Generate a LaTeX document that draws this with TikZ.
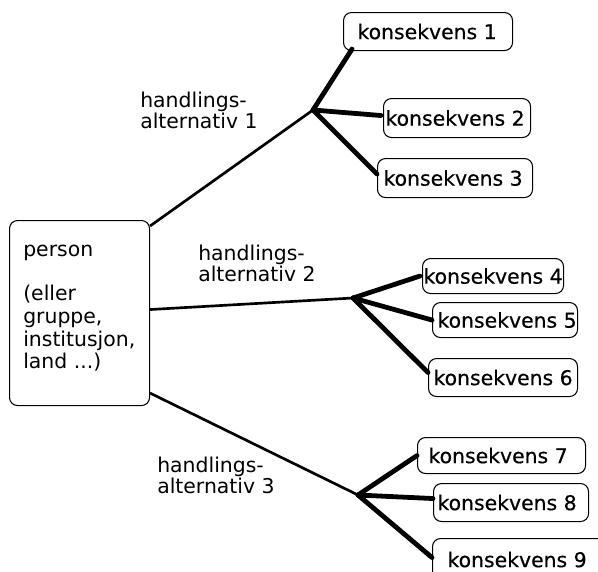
\documentclass[tikz,border=0pt]{standalone}
\usepackage{fontspec}
\setmainfont{DejaVu Sans}
\newfontfamily\kfont{DejaVu Sans}[FakeBold=0.5]
\usetikzlibrary{calc}
\newcommand{\kb}[3]{\makebox[#2\dimexpr0.75pt\relax][l]{\hspace*{#1\dimexpr0.75pt\relax}#3}}
\begin{document}
\begin{tikzpicture}[x=0.75pt,y=-0.75pt,
  box/.style={draw,rounded corners=6pt,line width=0.8pt,anchor=north west,inner sep=0pt},
  kbox/.style={box,font=\kfont\fontsize{15.3}{18}\selectfont},
  lab/.style={anchor=west,inner sep=0pt,align=left,font=\fontsize{15.3}{15.8}\selectfont},
  main/.style={line width=2pt},
  branch/.style={line width=3.6pt,line cap=round}]
\useasboundingbox (0,0) rectangle (598,571);
\clip (0,0) rectangle (598,571);
% person
\node[box,minimum width=140*0.75pt,minimum height=185*0.75pt] (person) at (9,220) {};
\node[anchor=north west,inner sep=0pt,align=left,font=\fontsize{15.3}{17}\selectfont] (ptext) at (23,245)
  {person\\[16pt](eller\\gruppe,\\institusjon,\\land ...)};
% consequence boxes
\node[kbox,minimum height=38*0.75pt] (k1) at (343,12) {\kb{14}{169}{konsekvens 1}};
\node[kbox,minimum height=39*0.75pt] (k2) at (383,98) {\kb{2}{147}{konsekvens 2}};
\node[kbox,minimum height=39*0.75pt] (k3) at (377,158) {\kb{6}{155}{konsekvens 3}};
\node[kbox,minimum height=35*0.75pt] (k4) at (422,258) {\kb{1}{141}{konsekvens 4}};
\node[kbox,minimum height=35*0.75pt] (k5) at (432,302) {\kb{5}{145}{konsekvens 5}};
\node[kbox,minimum height=38*0.75pt] (k6) at (428,358) {\kb{5}{149}{konsekvens 6}};
\node[kbox,minimum height=36*0.75pt] (k7) at (417,437) {\kb{11}{168}{konsekvens 7}};
\node[kbox,minimum height=38*0.75pt] (k8) at (433,483) {\kb{4}{155}{konsekvens 8}};
\node[kbox,minimum height=42*0.75pt] (k9) at (432,538) {\kb{15}{180}{konsekvens 9}};
% labels
\node[lab] (l1) at (140,110) {handlings-\\alternativ 1};
\node[lab] (l2) at (198,263) {handlings-\\alternativ 2};
\node[lab] (l3) at (157,475) {handlings-\\alternativ 3};
% branch points
\coordinate (b1) at (313,110);
\coordinate (b2) at (353,298);
\coordinate (b3) at (358,495);
% main lines
\draw[main] ($(person.north east)+(0,6)$) -- (b1);
\draw[main] ($(person.east)+(0,-3.5)$) -- (b2);
\draw[main] ($(person.south east)+(0,-13)$) -- (b3);
% branches
\draw[branch] (b1) -- ($(k1.south west)+(9,-2)$);
\draw[branch] (b1) -- ($(k2.west)+(-2,-2.5)$);
\draw[branch] (b1) -- ($(k3.west)+(0,-4)$);
\draw[branch] (b2) -- ($(k4.west)+(-2,0)$);
\draw[branch] (b2) -- (k5.west);
\draw[branch] (b2) -- ($(k6.west)+(0,-5)$);
\draw[branch] (b3) -- (k7.west);
\draw[branch] (b3) -- ($(k8.west)+(0,-4)$);
\draw[branch] (b3) -- ($(k9.west)+(0,-2)$);
\end{tikzpicture}
\end{document}
